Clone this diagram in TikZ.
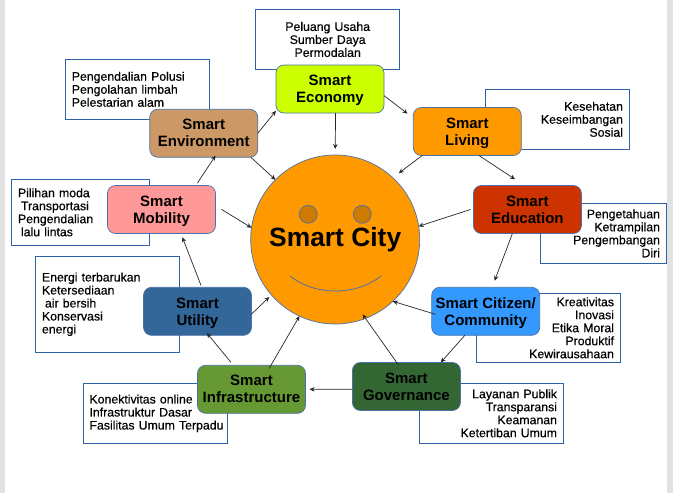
\documentclass[tikz,border=0pt]{standalone}
\usepackage{fontspec}
\setmainfont{Liberation Sans}
\newfontfamily\notefont[FakeBold=0.4]{Liberation Sans}
\usetikzlibrary{arrows.meta}
\newcommand{\nodepth}[1]{\raisebox{0pt}[\height][0pt]{#1}}

\begin{document}
\begin{tikzpicture}[x=1pt, y=-1pt]
    \useasboundingbox (0,0) rectangle (673,493);

    \definecolor{eyeC}{HTML}{CC7A00}
    \definecolor{sideC}{HTML}{E2E2E2}
    \definecolor{edgeC}{HTML}{4A72A8}
    \definecolor{noteC}{HTML}{2E62A6}

    % Styles for boxes, notes and arrows
    \tikzset{
        c_box/.style={draw=edgeC, line width=0.7pt, rounded corners=8pt, minimum width=108pt,
            minimum height=48pt, inner sep=0pt, outer sep=0pt, align=center,
            font=\bfseries\fontsize{15}{17}\selectfont},
        c_note/.style={draw=noteC, fill=white, line width=0.8pt, inner xsep=6.5pt, inner ysep=0pt,
            outer sep=0pt, font=\notefont\fontsize{12.3}{13}\selectfont},
        c_link/.style={-{Stealth[length=5pt,width=4.5pt]}, line width=0.7pt, color=black!85},
        c_eye/.style={circle, draw=edgeC, fill=eyeC, line width=0.7pt, minimum size=18pt, inner sep=0pt}
    }

    % Grey page edges
    \fill[sideC] (0,0) rectangle (5,493);
    \fill[sideC] (666.5,0) rectangle (673,493);

    % Note boxes under the main boxes
    \node[c_note, minimum width=144pt, minimum height=60pt, text width=131pt, align=center] (n_econ) at (327.7,39.5)
        {Peluang Usaha\\Sumber Daya\\Permodalan};
    \node[c_note, minimum width=144pt, minimum height=60pt, text width=131pt, align=left] (n_env) at (137.3,89.3)
        {Pengendalian Polusi\\Pengolahan limbah\\Pelestarian alam};
    \node[c_note, minimum width=138pt, minimum height=66pt, text width=125pt, align=left] (n_mob) at (80.5,212.3)
        {Pilihan moda\\\hspace*{3pt}Transportasi\\Pengendalian\\\hspace*{3pt}lalu lintas};
    \node[c_note, minimum width=144pt, minimum height=60pt, text width=131pt, align=right] (n_liv) at (557.5,119.3)
        {Kesehatan\\Keseimbangan\\Sosial};
    \node[c_note, minimum width=126pt, minimum height=60pt, text width=113pt, align=right] (n_edu) at (603.5,233.3)
        {Pengetahuan\\Ketrampilan\\Pengembangan\hspace*{3pt}\\Diri};
    \node[c_note, minimum width=144pt, minimum height=69pt, text width=131pt, align=right] (n_cit) at (548.5,327.8)
        {Kreativitas\\Inovasi\hspace*{3pt}\\Etika Moral\\Produktif\\Kewirausahaan};
    \node[c_note, minimum width=144pt, minimum height=60pt, text width=131pt, align=right] (n_gov) at (491.5,413.3)
        {Layanan Publik\\Transparansi\\Keamanan\\Ketertiban Umum};
    \node[c_note, minimum width=144pt, minimum height=60pt, text width=136pt, inner xsep=4pt, align=left] (n_inf) at (155.5,413.3)
        {\hspace*{2pt}Konektivitas online\\\hspace*{2pt}Infrastruktur Dasar\\\hspace*{2pt}Fasilitas Umum Terpadu};
    \node[c_note, minimum width=144pt, minimum height=96pt, text width=131pt, align=left] (n_util) at (107.5,304.3)
        {Energi terbarukan\\Ketersediaan\\\hspace*{3pt}air bersih\\Konservasi\\energi};

    % Main boxes
    \node[c_box, fill={rgb,255:red,204;green,255;blue,0}] (econ) at (330,89) {Smart\\\nodepth{Economy}};
    \node[c_box, fill={rgb,255:red,204;green,153;blue,102}] (env) at (203.75,133.25) {Smart\\Environment};
    \node[c_box, fill={rgb,255:red,255;green,153;blue,153}] (mob) at (161.5,209.5) {Smart\\\nodepth{Mobility}};
    \node[c_box, fill={rgb,255:red,255;green,153;blue,0}] (liv) at (467.3,131.5) {Smart\\\nodepth{Living}};
    \node[c_box, fill={rgb,255:red,204;green,51;blue,0}] (edu) at (527.4,209.5) {Smart\\Education};
    \node[c_box, fill={rgb,255:red,51;green,153;blue,255}] (cit) at (485.7,311.3) {Smart Citizen/\\\nodepth{Community}};
    \node[c_box, fill={rgb,255:red,51;green,102;blue,51}] (gov) at (406.4,386.5) {Smart\\Governance};
    \node[c_box, fill={rgb,255:red,102;green,153;blue,51}] (inf) at (251.5,389.3) {Smart\\Infrastructure};
    \node[c_box, fill={rgb,255:red,51;green,102;blue,153}] (util) at (197.5,311.3) {Smart\\\nodepth{Utility}};

    % Smiling circle
    \node[circle, draw=edgeC, fill={rgb,255:red,255;green,153;blue,0}, line width=0.7pt, minimum size=169pt,
        inner sep=0pt, outer sep=0pt, font=\bfseries\fontsize{26.4}{30}\selectfont] (city) at (335.2,239.5) {Smart City};
    \node[c_eye] (eyeL) at (308.3,214.3) {};
    \node[c_eye] (eyeR) at (362.3,214.3) {};
    \draw[edgeC, line width=0.8pt] (290,276) .. controls (315,296) and (356,296) .. (381,276);

    % Arrows between the boxes
    \draw[c_link, shorten >=7.3pt] (econ.-7) -- (liv.166);
    \draw[c_link, shorten >=6pt] (econ.-77) -- (city.90);
    \draw[c_link] (env.0) -- (econ.202);
    \draw[c_link] (env.-27) -- (city.135);
    \draw[c_link, shorten <=3pt, shorten >=-2pt] (mob.35) -- (env.-66);
    \draw[c_link, shorten <=7pt] (mob.4) -- (city.172);
    \draw[c_link, shorten <=2pt, shorten >=4pt] (util.80) -- (mob.-51);
    \draw[c_link, shorten >=3pt] (util.-3) -- (city.221);
    \draw[c_link, shorten <=4pt, shorten >=-3pt] (inf.127) -- (util.-65);
    \draw[c_link, shorten <=-3.5pt] (inf.51) -- (city.245);
    \draw[c_link, shorten >=4pt] (gov.183) -- (inf.0);
    \draw[c_link, shorten <=-3pt, shorten >=-5pt] (gov.112) -- (city.-69);
    \draw[c_link] (cit.229) -- (gov.35);
    \draw[c_link, shorten <=-4pt] (cit.182) -- (city.-47);
    \draw[c_link, shorten >=7pt] (edu.238) -- (cit.75);
    \draw[c_link, shorten <=3pt] (edu.179) -- (city.9);
    \draw[c_link, shorten >=11.3pt] (liv.-64) -- (edu.97);
    \draw[c_link, shorten >=7.5pt] (liv.208) -- (city.47);
\end{tikzpicture}
\end{document}
